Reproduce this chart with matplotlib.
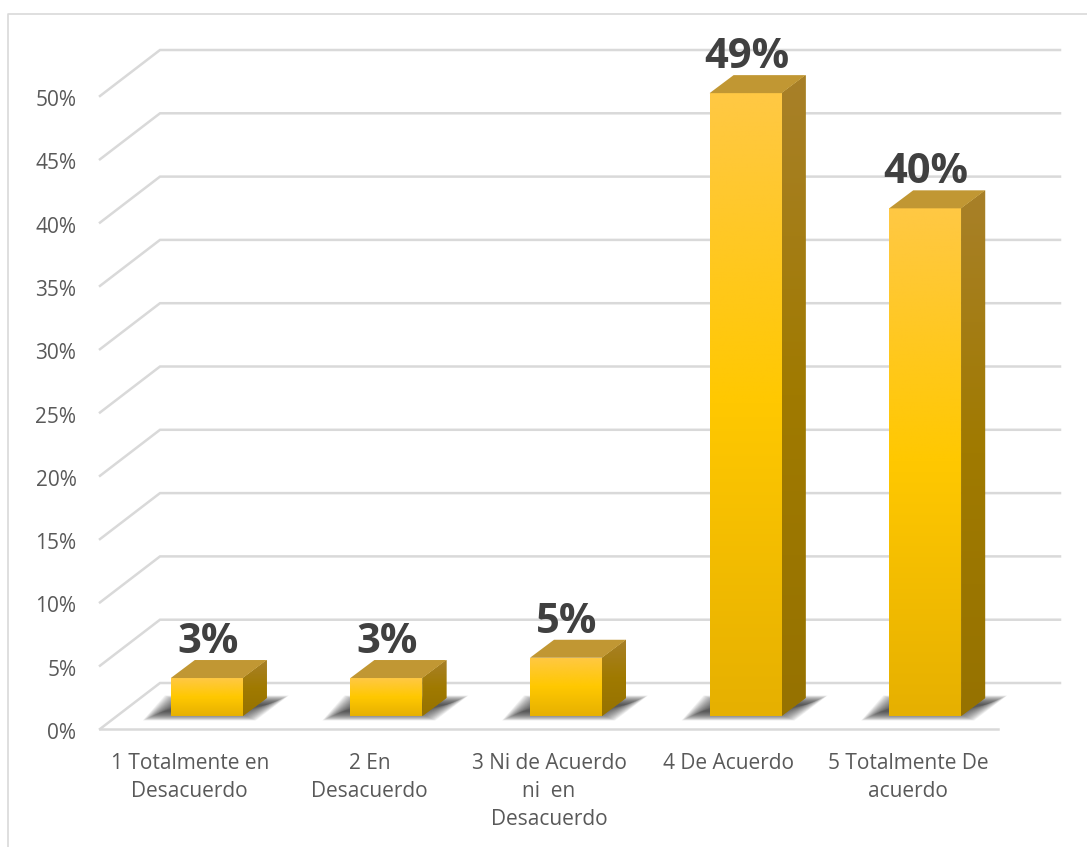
import numpy as np
import matplotlib
matplotlib.use('Agg')
import matplotlib.pyplot as plt
from matplotlib.colors import LinearSegmentedColormap
from matplotlib.lines import Line2D
from matplotlib.patches import Polygon
from matplotlib.transforms import ScaledTranslation

categorias = ['1 Totalmente en\nDesacuerdo', '2 En\nDesacuerdo',
              '3 Ni de Acuerdo\nni  en\nDesacuerdo', '4 De Acuerdo',
              '5 Totalmente De\nacuerdo']
valores = [3.0, 3.0, 4.6, 49.2, 40.1]
ticks = [0, 5, 10, 15, 20, 25, 30, 35, 40, 45, 50]

plt.rcParams['font.family'] = ['Open Sans', 'DejaVu Sans']

W, H = 1087, 847
fig = plt.figure(figsize=(W / 100, H / 100), dpi=100)
ax = fig.add_axes([100 / W, 1 - 729 / H, 898 / W, 633 / H])
ax.set_xlim(-0.5, 4.5)
ax.set_ylim(0, 50)
ax.autoscale(False)

# pixels to data units
ux = 5 / 898
uy = 50 / 633
gris = '#D9D9D9'

ax.spines[['top', 'left', 'right']].set_visible(False)
ax.spines['bottom'].set_color(gris)
ax.spines['bottom'].set_linewidth(1.8)
ax.set_xticks(range(5), categorias)
ax.set_yticks(ticks, [str(t) + '%' for t in ticks])
ax.tick_params(length=0, labelsize=15, labelcolor='#595959')
ax.tick_params(axis='x', pad=17)
ax.tick_params(axis='y', pad=17)
for lab in ax.get_xticklabels():
    lab.set_linespacing(1.45)
    lab.set_verticalalignment('top')
baja = ScaledTranslation(0, -2 / 100, fig.dpi_scale_trans)
for lab in ax.get_yticklabels():
    lab.set_transform(lab.get_transform() + baja)

# back wall and side wall lines
for t in ticks:
    ax.plot([-0.5, -0.5 + 60 * ux, 4.5 + 62 * ux],
            [t, t + 46 * uy, t + 46 * uy],
            color=gris, lw=1.8, clip_on=False, zorder=1, solid_joinstyle='miter')

cm_frente = LinearSegmentedColormap.from_list(
    'frente', [(0, '#E6B000'), (0.5, '#FFC800'), (1, '#FFC844')])
cm_lado = LinearSegmentedColormap.from_list(
    'lado', [(0, '#967200'), (0.5, '#A07A00'), (1, '#A88029')])
grad = np.linspace(1, 0, 256).reshape(-1, 1)

base = 13 * uy
ancho = 72 * ux
dx = 24 * ux
dy = 18 * uy
desp = 17 * ux

for i, v in enumerate(valores):
    l = i + desp - ancho / 2
    r = l + ancho
    top = base + v

    # shadow on the floor, soft edge from nested shapes
    for e in np.linspace(10, -10, 25):
        sombra = [(l - (18 + e) * ux, base - (0 + 0.45 * e) * uy),
                  (r + (3 + e) * ux, base - (0 + 0.45 * e) * uy),
                  (r + (36 + e) * ux, base + (16 + 0.45 * e) * uy),
                  (l + (4 - e) * ux, base + (16 + 0.45 * e) * uy)]
        ax.add_patch(Polygon(sombra, closed=True, fc='#333333', ec='none', alpha=0.06,
                             clip_on=False, zorder=2))

    barra = ax.bar(i + desp, v, width=ancho, bottom=base, color='#FFC800',
                   clip_on=False, zorder=3)[0]
    im = ax.imshow(grad, cmap=cm_frente, vmin=0, vmax=1, aspect='auto',
                   extent=(l, r, base, top), zorder=4)
    im.set_clip_path(barra)

    lado = Polygon([(r, base), (r + dx, base + dy), (r + dx, top + dy), (r, top)],
                   closed=True, fc='#A07A00', ec='none', clip_on=False, zorder=3)
    ax.add_patch(lado)
    im2 = ax.imshow(grad, cmap=cm_lado, vmin=0, vmax=1, aspect='auto',
                    extent=(r, r + dx, base, top + dy), zorder=4)
    im2.set_clip_path(lado)
    im2.set_clip_box(fig.bbox)

    ax.add_patch(Polygon([(l, top), (r, top), (r + dx, top + dy), (l + dx, top + dy)],
                         closed=True, fc='#C19733', ec='none', clip_on=False, zorder=5))

    ax.text(i + desp + 1 * ux, top + dy + 7 * uy, str(round(v)) + '%', ha='center', va='baseline',
            fontsize=30, fontweight='bold', color='#404040', clip_on=False, zorder=5)

# chart frame, cut by the image edge
fig.add_artist(Line2D([8 / W, 8 / W, 1], [0, 1 - 14 / H, 1 - 14 / H], color=gris, lw=1.2))

fig.savefig('out.png', dpi=100)
